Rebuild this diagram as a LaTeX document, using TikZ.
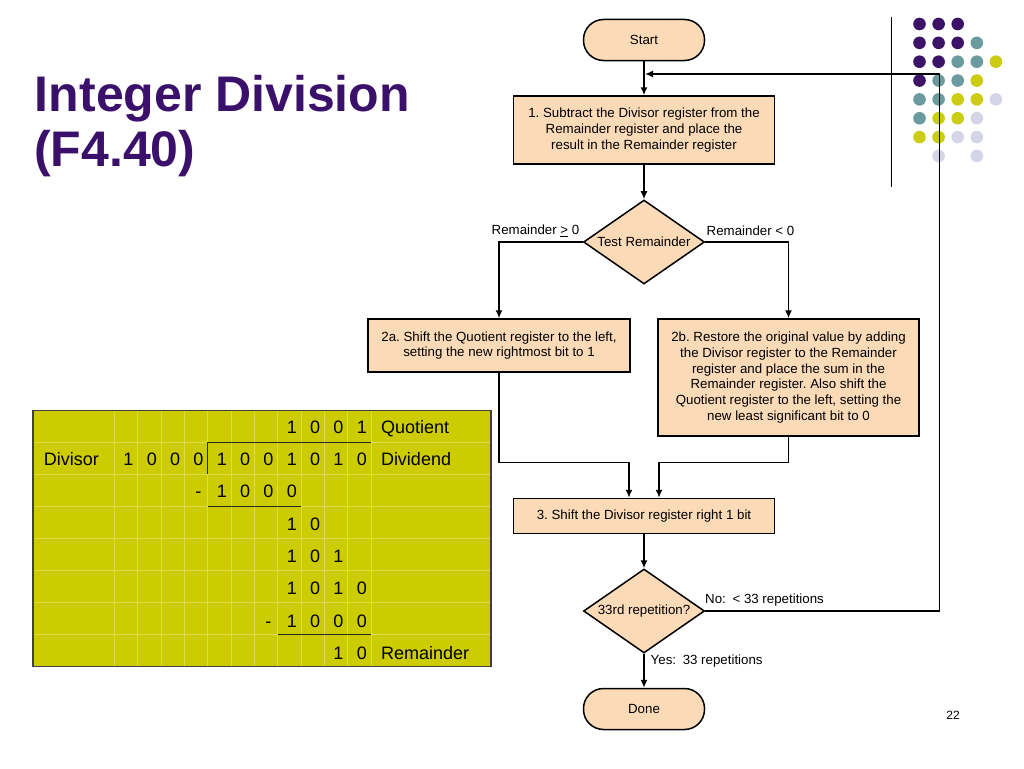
\documentclass[tikz,border=0pt]{standalone}
\usepackage{fontspec}
\setmainfont{Liberation Sans}
\usetikzlibrary{shapes.geometric,arrows.meta}
\definecolor{titlepurple}{HTML}{3A106A}
\definecolor{dotP}{HTML}{3D1368}
\definecolor{dotT}{HTML}{6B9B9E}
\definecolor{dotY}{HTML}{CCCC14}
\definecolor{dotL}{HTML}{D5D5E8}
\definecolor{boxfill}{HTML}{FBDAB8}
\definecolor{tabfill}{HTML}{CCCC00}
\definecolor{tabgrid}{HTML}{DCDC50}
\newcommand\flowfont{\fontsize{13.3}{15.7}\selectfont}
\newcommand\tabfont{\fontsize{18}{21}\selectfont}
\frenchspacing
\begin{document}
\begin{tikzpicture}[x=1pt,y=-1pt,
  box/.style={draw=black, line width=1.5pt, fill=boxfill, align=center, font=\flowfont, inner sep=0pt},
  term/.style={box, rounded corners=20pt, minimum width=121pt, minimum height=41pt},
  proc/.style={box, minimum width=261pt},
  dec/.style={box, diamond, aspect=1.43, minimum width=121pt, minimum height=84pt},
  arr/.style={line width=1.5pt, -{Latex[length=8pt,width=7pt]}},
  lbl/.style={font=\flowfont, inner sep=0pt},
  title/.style={font=\bfseries\fontsize{50}{58}\selectfont, text=titlepurple, inner sep=0pt, anchor=base west},
  tab/.style={font=\tabfont, inner sep=0pt, anchor=base},
  tabl/.style={font=\tabfont, inner sep=0pt, anchor=base west},
  tline/.style={line width=1.4pt, draw=black!85}]
\useasboundingbox (0,0) rectangle (1024,768);
\fill[white] (0,0) rectangle (1024,768);

% title
\node[title] (t1) at (34.7,111.7) {Integer Division};
\node[title] (t2) at (34,166) {(F4.40)};

% decoration
\draw[line width=1pt] (891,17) -- (891,187);
\foreach \c/\r in {0/0,1/0,2/0,0/1,1/1,2/1,0/2,1/2,0/3}
  \fill[dotP] ({919.5+19.1*\c},{24+18.85*\r}) circle[radius=6.3pt];
\foreach \c/\r in {3/1,2/2,3/2,1/3,2/3,0/4,1/4,0/5}
  \fill[dotT] ({919.5+19.1*\c},{24+18.85*\r}) circle[radius=6.3pt];
\foreach \c/\r in {4/2,3/3,2/4,3/4,1/5,2/5,0/6,1/6}
  \fill[dotY] ({919.5+19.1*\c},{24+18.85*\r}) circle[radius=6.3pt];
\foreach \c/\r in {4/4,3/5,2/6,3/6,1/7,3/7}
  \fill[dotL] ({919.5+19.1*\c},{24+18.85*\r}) circle[radius=6.3pt];

% table
\fill[tabfill] (33,410.7) rectangle (491,666.7);
\foreach \k in {0,...,11}
  \draw[tabgrid, line width=0.5pt] ({114.3+23.33*\k},410.7) -- ({114.3+23.33*\k},666.7);
\foreach \k in {1,...,7}
  \draw[tabgrid, line width=0.5pt] (33,{410.7+32*\k}) -- (491,{410.7+32*\k});
\draw[line width=1.4pt, draw=black!75] (33,410.7) rectangle (491,666.7);
\draw[tline] (207.7,474) -- (207.7,442.7) -- (371,442.7);
\draw[tline] (207.7,506.7) -- (301,506.7);
\draw[tline] (277.7,634.7) -- (371,634.7);

\foreach \r/\c/\t in {0/8/1,0/9/0,0/10/0,0/11/1,
  1/1/1,1/2/0,1/3/0,1/4/0,1/5/1,1/6/0,1/7/0,1/8/1,1/9/0,1/10/1,1/11/0,
  2/4/-,2/5/1,2/6/0,2/7/0,2/8/0,
  3/8/1,3/9/0,
  4/8/1,4/9/0,4/10/1,
  5/8/1,5/9/0,5/10/1,5/11/0,
  6/7/-,6/8/1,6/9/0,6/10/0,6/11/0,
  7/10/1,7/11/0}
  \node[tab] (c\r-\c) at ({128.5+23.33*(\c-1)},{433.1+32.37*\r}) {\t};
\node[tabl] (quot) at (380.8,433.1) {Quotient};
\node[tabl] (divd) at (380.8,465.5) {Dividend};
\node[tabl] (dvsr) at (43.6,465.5) {Divisor};
\node[tabl] (rem) at (380.8,659.7) {Remainder};

% flowchart
\node[term] (start) at (644,40) {Start};
\node[proc, minimum height=68pt] (b1) at (644,130) {1. Subtract the Divisor register from the\\Remainder register and place the\\result in the Remainder register};
\node[dec] (d1) at (644,242) {Test Remainder};
\node[proc, minimum width=262pt, minimum height=53pt] (b2a) at (499,345.5) {2a. Shift the Quotient register to the left,\\setting the new rightmost bit to 1};
\node[proc, minimum height=117pt] (b2b) at (788.5,377.5) {2b. Restore the original value by adding\\the Divisor register to the Remainder\\register and place the sum in the\\Remainder register. Also shift the\\Quotient register to the left, setting the\\new least significant bit to 0};
\node[proc, minimum height=35pt] (b3) at (644,516) {3. Shift the Divisor register right 1 bit};
\node[dec] (d2) at (644,611) {33rd repetition?};
\node[term] (done) at (644,709) {Done};

\node[lbl, anchor=east] (l1) at (579.5,231) {Remainder \underline{>} 0};
\node[lbl, anchor=west] (l2) at (706.5,231) {Remainder < 0};
\node[lbl, anchor=west] (l3) at (705,600) {No:\enspace< 33 repetitions};
\node[lbl, anchor=west] (l4) at (650.5,661.5) {Yes:\enspace33 repetitions};

\node[font=\fontsize{12}{14}\selectfont, inner sep=0pt] (pg) at (953,715) {22};

\coordinate (j1) at (629,462.3);
\coordinate (j2) at (659,462.3);
\coordinate (loopc) at (939.3,611);
\coordinate (merge) at (644,74);

\draw[arr] (start) -- (b1);
\draw[arr] (b1) -- (d1);
\draw[arr] (d1.west) -| (b2a.north);
\draw[arr] (d1.east) -| (b2b.north);
\draw[arr] (b2a.south) |- (j1) -- (j1 |- b3.north);
\draw[arr] (b2b.south) |- (j2) -- (j2 |- b3.north);
\draw[arr] (b3) -- (d2);
\draw[arr] (d2) -- (done);
\draw[arr, shorten >=1pt] (d2.east) -- (loopc) |- (merge);
\end{tikzpicture}
\end{document}
